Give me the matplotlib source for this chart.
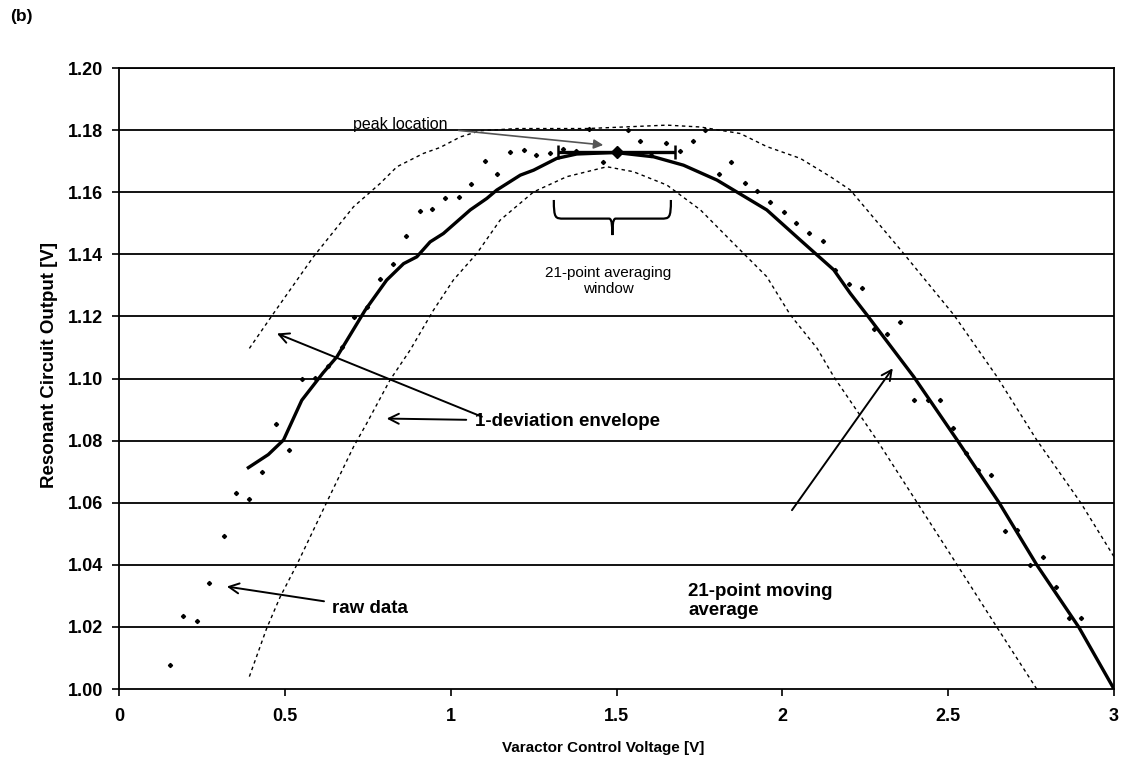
import numpy as np
import matplotlib
matplotlib.use("Agg")
import matplotlib.pyplot as plt
from matplotlib.path import Path
from matplotlib.patches import PathPatch

plt.rcParams["font.family"] = ["Liberation Sans", "DejaVu Sans"]

# Raw measurements: varactor control voltage [V] vs. resonant circuit output [V]
raw_v = [0.154, 0.194, 0.234, 0.271, 0.315, 0.353, 0.392, 0.432, 0.472, 0.512,
         0.551, 0.591, 0.631, 0.671, 0.707, 0.747, 0.787, 0.826, 0.866, 0.906,
         0.945, 0.983, 1.024, 1.062, 1.102, 1.139, 1.179, 1.220, 1.258, 1.298,
         1.338, 1.378, 1.416, 1.458, 1.498, 1.534, 1.572, 1.605, 1.650, 1.690,
         1.730, 1.768, 1.808, 1.846, 1.886, 1.925, 1.964, 2.004, 2.042, 2.081,
         2.122, 2.160, 2.200, 2.240, 2.276, 2.316, 2.356, 2.396, 2.439, 2.475,
         2.515, 2.555, 2.590, 2.630, 2.670, 2.708, 2.748, 2.785, 2.824, 2.864,
         2.902]
raw_out = [1.0077, 1.0236, 1.0219, 1.0342, 1.0493, 1.0632, 1.0611, 1.0699, 1.0852, 1.0769,
           1.0997, 1.1003, 1.1040, 1.1100, 1.1199, 1.1231, 1.1319, 1.1368, 1.1460, 1.1540,
           1.1546, 1.1582, 1.1586, 1.1626, 1.1700, 1.1660, 1.1728, 1.1736, 1.1721, 1.1725,
           1.1739, 1.1733, 1.1804, 1.1696, 1.1730, 1.1801, 1.1766, 1.1720, 1.1757, 1.1733,
           1.1766, 1.1800, 1.1659, 1.1696, 1.1631, 1.1604, 1.1567, 1.1535, 1.1502, 1.1470,
           1.1444, 1.1350, 1.1304, 1.1290, 1.1158, 1.1143, 1.1183, 1.0931, 1.0931, 1.0931,
           1.0840, 1.0760, 1.0705, 1.0689, 1.0509, 1.0512, 1.0400, 1.0426, 1.0329, 1.0228,
           1.0228]

# 21-point moving average
ma_v = [0.39, 0.45, 0.496, 0.551, 0.615, 0.657, 0.742, 0.807, 0.858, 0.898,
        0.938, 0.978, 1.059, 1.109, 1.139, 1.21, 1.25, 1.32, 1.38, 1.496,
        1.612, 1.702, 1.803, 1.903, 1.953, 2.054, 2.155, 2.205, 2.255, 2.396,
        2.527, 2.653, 2.767, 2.894, 3.0]
ma_out = [1.0713, 1.0755, 1.0802, 1.0930, 1.1018, 1.1070, 1.1220, 1.1317, 1.1370, 1.1392,
          1.1440, 1.1467, 1.1543, 1.1580, 1.1607, 1.1655, 1.1671, 1.1709, 1.1723, 1.1728,
          1.1714, 1.1687, 1.1639, 1.1575, 1.1543, 1.1446, 1.1350, 1.1274, 1.1205, 1.1006,
          1.0802, 1.0601, 1.0400, 1.0199, 1.0000]

# 1-deviation envelope (upper / lower)
up_v = [0.393, 0.466, 0.586, 0.707, 0.787, 0.838, 0.918, 0.968, 1.029, 1.089,
        1.20, 1.411, 1.652, 1.753, 1.873, 1.953, 2.054, 2.145, 2.205, 2.36,
        2.517, 2.647, 2.767, 2.899, 3.0]
up_out = [1.1097, 1.1210, 1.1392, 1.1553, 1.1628, 1.1682, 1.1725, 1.1744, 1.1778, 1.1798,
          1.1805, 1.1805, 1.1816, 1.1810, 1.1789, 1.1747, 1.1709, 1.1650, 1.1607, 1.1410,
          1.1205, 1.1006, 1.0802, 1.0601, 1.0426]
lo_v = [0.393, 0.445, 0.486, 0.536, 0.626, 0.707, 0.747, 0.817, 0.878, 0.948,
        1.008, 1.079, 1.149, 1.25, 1.35, 1.471, 1.551, 1.652, 1.753, 1.853,
        1.953, 2.024, 2.105, 2.155, 2.285, 2.406, 2.527, 2.647, 2.767]
lo_out = [1.0040, 1.0195, 1.0297, 1.0400, 1.0601, 1.0780, 1.0856, 1.0995, 1.1092, 1.1220,
          1.1317, 1.1403, 1.1510, 1.1601, 1.1650, 1.1682, 1.1666, 1.1623, 1.1543, 1.1435,
          1.1328, 1.1205, 1.1097, 1.1006, 1.0802, 1.0601, 1.0400, 1.0199, 1.0000]

# Peak of the moving average and the averaging window around it
peak_v = 1.5
peak_out = 1.173
window_half = 0.177

x_ticks = [0, 0.5, 1, 1.5, 2, 2.5, 3]
x_tick_labels = ["0", "0.5", "1", "1.5", "2", "2.5", "3"]
y_ticks = [1.00, 1.02, 1.04, 1.06, 1.08, 1.10, 1.12, 1.14, 1.16, 1.18, 1.20]
y_tick_labels = ["%.2f" % t for t in y_ticks]

W, H = 1124, 759
fig = plt.figure(figsize=(W / 100, H / 100), dpi=100)
ax = fig.add_axes([0.1059, 0.0922, 0.8852, 0.8182])

ax.set_xlim(0, 3)
ax.set_ylim(1.0, 1.2)

for t in y_ticks[1:]:
    ax.axhline(t, color="black", lw=1.3, zorder=1)

ax.plot(up_v, up_out, color="black", lw=1.0, ls=(0, (2.5, 2.5)), zorder=2)
ax.plot(lo_v, lo_out, color="black", lw=1.0, ls=(0, (2.5, 2.5)), zorder=2)
ax.plot(raw_v, raw_out, ls="none", marker="D", ms=2.1, color="black", zorder=3)
ax.plot(ma_v, ma_out, color="black", lw=2.4, zorder=4)

# Averaging window with the peak marker
ax.errorbar([peak_v], [peak_out], xerr=[[window_half], [window_half]], fmt="D",
            color="black", ms=6, elinewidth=2.4, capsize=5, capthick=1.8, zorder=5)

# Curly brace under the averaging window
bl, br = peak_v - window_half - 0.012, peak_v + window_half - 0.013
btop, bmid, btip = 1.1575, 1.1515, 1.1462
cx = (bl + br) / 2
verts = [
    (bl, btop), (bl, bmid), (bl + 0.005, bmid), (bl + 0.03, bmid),
    (cx - 0.03, bmid), (cx - 0.03, bmid), (cx - 0.01, bmid),
    (cx, bmid), (cx, btip + 0.002), (cx, btip),
    (cx, btip + 0.002), (cx, bmid), (cx + 0.01, bmid),
    (cx + 0.03, bmid), (cx + 0.03, bmid), (br - 0.03, bmid),
    (br - 0.005, bmid), (br, bmid), (br, btop),
]
codes = [Path.MOVETO] + [Path.CURVE4] * 18
ax.add_patch(PathPatch(Path(verts, codes), fill=False, lw=1.6, color="black", zorder=5))

ax.text(1.475, 1.1314, "21-point averaging\nwindow", ha="center", va="center",
        fontsize=11, linespacing=1.15)

# Annotations
ax.annotate("peak location", xy=(1.46, 1.1752), xytext=(0.848, 1.1818),
            ha="center", va="center", fontsize=11.5,
            arrowprops=dict(arrowstyle="-|>", color="#555555", lw=1.2,
                            mutation_scale=14, shrinkA=6, shrinkB=0))

ann_kw = dict(fontsize=13.5, fontweight="bold", va="center")
ax.annotate("", xy=(0.476, 1.1145), xytext=(1.094, 1.0877),
            arrowprops=dict(arrowstyle="->", color="black", lw=1.4, mutation_scale=18,
                            shrinkA=0, shrinkB=0))
ax.annotate("1-deviation envelope", xy=(0.807, 1.0871), xytext=(1.072, 1.0862),
            ha="left", **ann_kw,
            arrowprops=dict(arrowstyle="->", color="black", lw=1.4, mutation_scale=18,
                            shrinkA=4, shrinkB=0))
ax.annotate("raw data", xy=(0.325, 1.033), xytext=(0.643, 1.026),
            ha="left", **ann_kw,
            arrowprops=dict(arrowstyle="->", color="black", lw=1.4, mutation_scale=18,
                            shrinkA=4, shrinkB=0))
ax.annotate("", xy=(2.333, 1.1033), xytext=(2.029, 1.0576),
            arrowprops=dict(arrowstyle="->", color="black", lw=1.4, mutation_scale=18,
                            shrinkA=0, shrinkB=0))
ax.text(1.716, 1.0283, "21-point moving\naverage", ha="left", va="center",
        fontsize=13.5, fontweight="bold", linespacing=1.15)

ax.set_xticks(x_ticks)
ax.set_xticklabels(x_tick_labels, fontsize=13, fontweight="bold")
ax.set_yticks(y_ticks)
ax.set_yticklabels(y_tick_labels, fontsize=13, fontweight="bold")
ax.tick_params(axis="both", direction="out", length=5, width=1.2, color="black")
ax.tick_params(axis="x", pad=9)
ax.tick_params(axis="y", pad=6.5)
for s in ax.spines.values():
    s.set_linewidth(1.3)
    s.set_color("black")

# Axis titles placed in figure pixels
fig.text(603 / W, 1 - 748 / H, "Varactor Control Voltage [V]", fontsize=11,
         fontweight="bold", ha="center", va="center")
fig.text(50 / W, 1 - 365 / H, "Resonant Circuit Output [V]", fontsize=13.5,
         fontweight="bold", ha="center", va="center", rotation=90)

fig.text(0.009, 0.978, "(b)", fontsize=12.5, fontweight="bold", ha="left", va="center")

fig.savefig("out.png", dpi=100)
